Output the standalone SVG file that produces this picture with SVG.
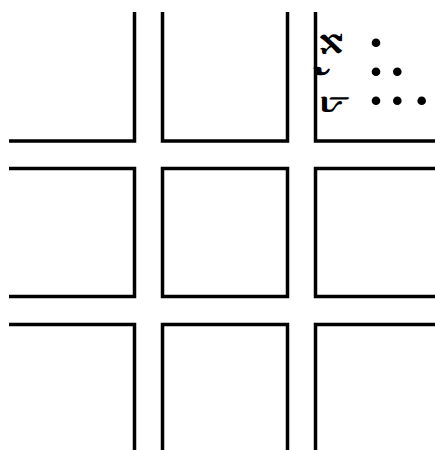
<svg xmlns="http://www.w3.org/2000/svg" width="435" height="450" viewBox="0 0 435 450">
<style>
.c{fill:none;stroke:#000;stroke-width:3.5;stroke-linejoin:miter;stroke-linecap:butt}
.h{font-family:"Liberation Serif","DejaVu Serif",serif;font-size:36px;font-weight:bold;fill:#000}
.d{fill:#000}
</style>
<rect width="435" height="450" fill="#fff"/>
<g id="cell-top-left"><path class="c" d="M134.5,12V141H9"/></g>
<g id="cell-top-middle"><path class="c" d="M162.5,12V141H287.5V12"/></g>
<g id="cell-top-right"><path class="c" d="M315.5,12V141H435"/></g>
<g id="cell-middle-left"><path class="c" d="M9,168.5H134.5V296.5H9"/></g>
<g id="cell-middle-middle"><path class="c" d="M162.5,168.5H287.5V296.5H162.5Z"/></g>
<g id="cell-middle-right"><path class="c" d="M435,168.5H315.5V296.5H435"/></g>
<g id="cell-bottom-left"><path class="c" d="M9,324.5H134.5V450"/></g>
<g id="cell-bottom-middle"><path class="c" d="M162.5,450V324.5H287.5V450"/></g>
<g id="cell-bottom-right"><path class="c" d="M315.5,450V324.5H435"/></g>
<g id="legend">
<text class="h" text-anchor="middle" transform="matrix(0,1,1,0,342,43.5)">א</text>
<text class="h" text-anchor="middle" style="font-size:46px" transform="matrix(0,1,1,0,340,71.5)">י</text>
<text class="h" text-anchor="middle" transform="matrix(0,1,1,0,342,104)">ק</text>
<circle class="d" cx="376" cy="42.7" r="4.3"/>
<circle class="d" cx="376" cy="71.7" r="4.3"/>
<circle class="d" cx="397.3" cy="71.7" r="4.3"/>
<circle class="d" cx="376" cy="100.7" r="4.3"/>
<circle class="d" cx="397.3" cy="100.7" r="4.3"/>
<circle class="d" cx="421.7" cy="100.7" r="4.3"/>
</g>
<g id="connectors"/>
</svg>
